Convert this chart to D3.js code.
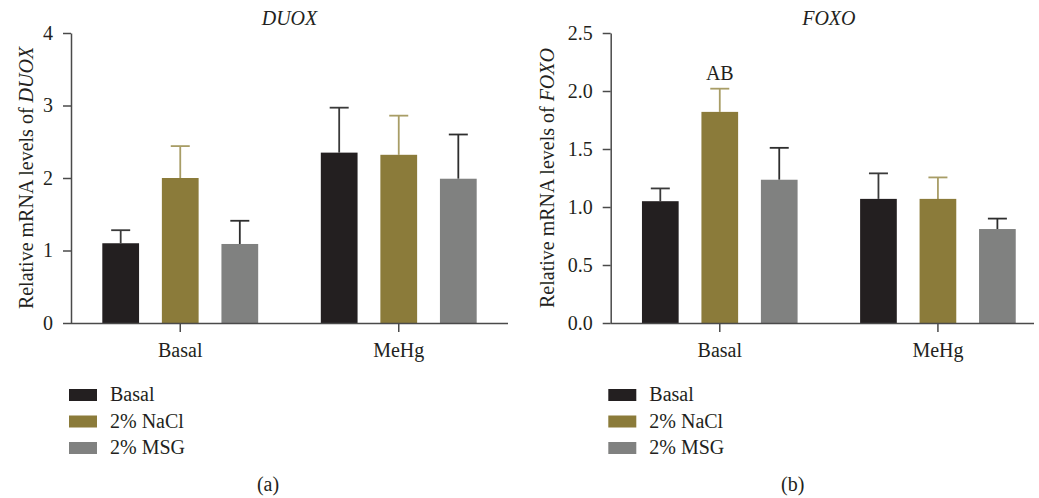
<!DOCTYPE html>
<head>
  <meta charset="utf-8">
  <script src="https://d3js.org/d3.v7.min.js"></script>
  <style>
    body { margin:0; background:#fff; }
    text { font-family: "Liberation Serif", "Times New Roman", serif; fill:#231f20; }
  </style>
</head>
<body>
  <script>
    var groups = ["Basal", "MeHg"];
    var treatments = ["Basal", "2% NaCl", "2% MSG"];
    var colors = ["#231f20", "#8b7b3a", "#808180"];
    var errColors = ["#3a3a3a", "#a89d66", "#2e2e2e"];

    // DUOX mean and top of error bar, one row per group (Basal, NaCl, MSG)
    var duoxMean = [[1.10, 2.00, 1.09], [2.35, 2.32, 1.99]];
    var duoxErr  = [[1.28, 2.44, 1.41], [2.97, 2.86, 2.60]];
    var duoxTicks = [0, 1, 2, 3, 4];

    var foxoMean = [[1.05, 1.82, 1.235], [1.07, 1.07, 0.81]];
    var foxoErr  = [[1.16, 2.02, 1.51], [1.29, 1.255, 0.90]];
    var foxoTicks = [0, 0.5, 1.0, 1.5, 2.0, 2.5];
    var foxoMarks = [{g: 0, t: 1, label: "AB"}];

    var fs = "20px";

    var svg = d3.select("body").append("svg")
      .attr("width", 1039).attr("height", 498);

    function drawPanel(o) {
      var x0 = d3.scaleBand().domain(groups).range([o.left, o.right]).padding(0);
      var x1 = d3.scaleBand().domain(treatments).range([0, x0.bandwidth() * 0.817])
        .paddingInner(0.383).paddingOuter(0.19);
      var y = d3.scaleLinear().domain([0, o.max]).range([323, 33]);
      var shift = x0.bandwidth() * 0.0915;

      var g = svg.append("g");

      // bars
      groups.forEach(function (grp, gi) {
        treatments.forEach(function (t, ti) {
          var bx = x0(grp) + shift + x1(t);
          var cx = bx + x1.bandwidth() / 2;
          g.append("line")
            .attr("x1", cx).attr("x2", cx)
            .attr("y1", y(o.mean[gi][ti])).attr("y2", y(o.err[gi][ti]))
            .attr("stroke", errColors[ti]).attr("stroke-width", 1.8);
          g.append("line")
            .attr("x1", cx - 9.5).attr("x2", cx + 9.5)
            .attr("y1", y(o.err[gi][ti])).attr("y2", y(o.err[gi][ti]))
            .attr("stroke", errColors[ti]).attr("stroke-width", 1.8);
          g.append("rect")
            .attr("x", bx).attr("width", x1.bandwidth())
            .attr("y", y(o.mean[gi][ti])).attr("height", y(0) - y(o.mean[gi][ti]))
            .attr("fill", colors[ti]);
        });
      });

      (o.marks || []).forEach(function (m) {
        var cx = x0(groups[m.g]) + shift + x1(treatments[m.t]) + x1.bandwidth() / 2;
        g.append("text").attr("x", cx).attr("y", y(o.err[m.g][m.t]) - 9)
          .attr("text-anchor", "middle").style("font-size", fs).text(m.label);
      });

      // y axis
      var ya = g.append("g").attr("transform", "translate(" + o.left + ",0)")
        .call(d3.axisLeft(y).tickValues(o.ticks).tickFormat(d3.format(o.fmt))
          .tickSize(8).tickSizeOuter(0).tickPadding(10));
      ya.selectAll("text").style("font-size", fs).attr("fill", "#231f20");

      // x axis
      var xa = g.append("g").attr("transform", "translate(0," + y(0) + ")")
        .call(d3.axisBottom(x0).tickSize(9).tickSizeOuter(0).tickPadding(11));
      xa.select(".domain").attr("d", "M" + o.left + ",0.5H" + o.axisEnd);
      xa.selectAll("text").style("font-size", fs).attr("fill", "#231f20");
      g.selectAll(".domain, .tick line").attr("stroke", "#4a4a4a").attr("stroke-width", 1.5);

      // title
      g.append("text").attr("x", (o.left + o.right) / 2).attr("y", 25)
        .attr("text-anchor", "middle").style("font-size", fs).style("font-style", "italic")
        .text(o.title);

      // y label
      var lab = g.append("text")
        .attr("transform", "translate(" + o.labelX + "," + 178 + ") rotate(-90)")
        .attr("text-anchor", "middle").style("font-size", fs);
      lab.append("tspan").text("Relative mRNA levels of ");
      lab.append("tspan").style("font-style", "italic").text(o.title);

      // legend
      treatments.forEach(function (t, i) {
        var ly = 389 + i * 26.5;
        g.append("rect").attr("x", o.legendX).attr("y", ly)
          .attr("width", 28).attr("height", 12).attr("fill", colors[i]);
        g.append("text").attr("x", o.legendX + 41).attr("y", ly + 12)
          .style("font-size", fs).text(t);
      });

      g.append("text").attr("x", o.captionX).attr("y", 491)
        .attr("text-anchor", "middle").style("font-size", fs).text(o.caption);
    }

    drawPanel({left: 71, right: 508, axisEnd: 508, max: 4, ticks: duoxTicks, fmt: "d",
      mean: duoxMean, err: duoxErr, title: "DUOX", labelX: 33,
      legendX: 69, caption: "(a)", captionX: 268});
    drawPanel({left: 610.7, right: 1047, axisEnd: 1034, max: 2.5, ticks: foxoTicks, fmt: ".1f",
      mean: foxoMean, err: foxoErr, title: "FOXO", labelX: 554, marks: foxoMarks,
      legendX: 608.3, caption: "(b)", captionX: 792.7});
  </script>
</body>
